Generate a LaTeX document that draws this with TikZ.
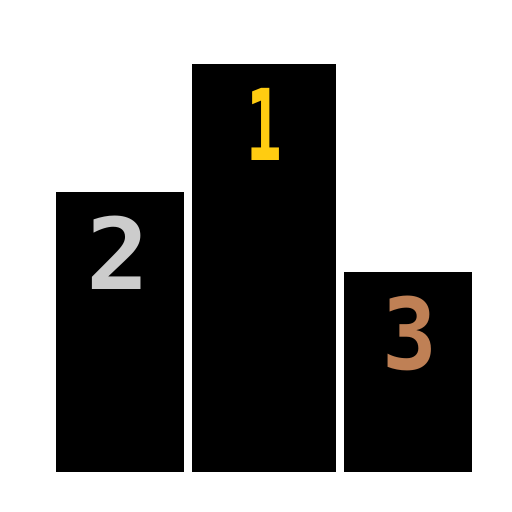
\documentclass[tikz,border=0pt]{standalone}
\usepackage{fontspec}
\setmainfont{DejaVu Sans Mono}
\usetikzlibrary{positioning}
\definecolor{gold}{HTML}{FFCC11}
\definecolor{silver}{HTML}{CCCCCC}
\definecolor{bronze}{HTML}{BF8055}
\tikzset{
  barnode/.style = {rectangle, fill=black, inner sep=0pt, outer sep=0pt,
    anchor=south, minimum width=128pt},
  digitnode/.style = {inner sep=0pt, outer sep=0pt, text centered,
    font=\fontsize{99pt}{99pt}\selectfont\bfseries}
}
\begin{document}
\begin{tikzpicture}[x=1pt,y=1pt]
  \useasboundingbox (0,0) rectangle (512,512);
  \node [barnode, minimum height=280pt] (bar_2) at (120,40) {};
  \node [barnode, minimum height=408pt, minimum width=144pt] (bar_1) at (264,40) {};
  \node [barnode, minimum height=200pt] (bar_3) at (408,40) {};
  \node [digitnode, gold, xscale=0.6,
    below=24pt of bar_1.north] (digit_1) {1};
  \node [digitnode, silver, xscale=1.06, xshift=-2pt,
    below=24pt of bar_2.north] (digit_2) {2};
  \node [digitnode, bronze, xscale=0.92, xshift=2pt,
    below=24pt of bar_3.north] (digit_3) {3};
\end{tikzpicture}
\end{document}
